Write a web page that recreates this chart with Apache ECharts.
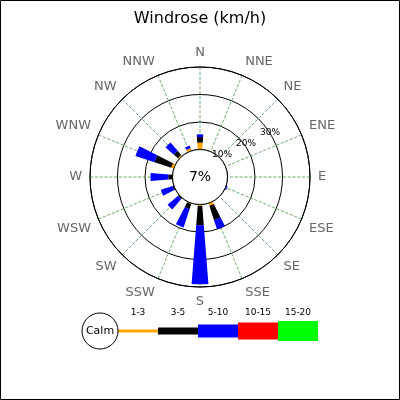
<!DOCTYPE html><html><head><meta charset="utf-8"><script src="https://cdn.jsdelivr.net/npm/echarts@6/dist/echarts.min.js"></script></head><body style="margin:0"><div id="c" style="width:400px;height:400px"></div><script>
var directions=['N','NNE','NE','ENE','E','ESE','SE','SSE','S','SSW','SW','WSW','W','WNW','NW','NNW'];
var s1_3 =[2.5,0,0,0,0,0,0,1,0.5,0.3,0,0,0,1,0.5,1];
var s3_5 =[2,0,0,0,0,0.3,0,5.5,7,2,0.5,0.5,1.5,6.4,2,0];
var s5_10=[1,0,0,0,0,0.3,0,3.5,21.5,7,5,4.5,6.5,7.3,4,1];
var s10_15=[0,0,0,0,0,0,0,0,0,0,0,0,0,0,0,0];
var s15_20=[0,0,0,0,0,0,0,0,0,0,0,0,0,0,0,0];
var calm=7;
var ringLabels=['10%','20%','30%'];
var legendNames=['1-3','3-5','5-10','10-15','15-20'];
var colors=['orange','black','blue','red','#00ff00'];
var F='DejaVu Sans';
var ch=echarts.init(document.getElementById('c'));
var series=[s1_3,s3_5,s5_10,s10_15,s15_20].map(function(d,i){return{type:'bar',coordinateSystem:'polar',stack:'w',data:d,barWidth:'40%',itemStyle:{color:colors[i]},name:legendNames[i]};});
series.push({type:'pie',center:[200,177],radius:[0,27.5],silent:true,z:10,data:[{value:1,name:calm+'%'}],itemStyle:{color:'#fff',borderColor:'#000',borderWidth:1},label:{position:'center',formatter:'{b}',fontSize:14,color:'#000',fontFamily:F},labelLine:{show:false}});
var g=[{type:'rect',shape:{x:0.5,y:0.5,width:399,height:399},style:{fill:'none',stroke:'#000'}},
{type:'circle',shape:{cx:100,cy:331,r:18},style:{fill:'#fff',stroke:'#000'},z:10},
{type:'text',x:100,y:331,style:{text:'Calm',fontSize:11,fontFamily:F,fill:'#000',align:'center',verticalAlign:'middle'},z:11}];
var hs=[3,7,13,17,20];
legendNames.forEach(function(n,i){var x=118+40*i;g.push({type:'rect',shape:{x:x,y:331-hs[i]/2,width:40,height:hs[i]},style:{fill:colors[i]}});g.push({type:'text',x:x+20,y:313,style:{text:n,fontSize:9,fontFamily:F,fill:'#000',align:'center',verticalAlign:'middle'}});});
var lp=[[222,155],[246,144],[270,133]];
ringLabels.forEach(function(t,i){g.push({type:'text',x:lp[i][0],y:lp[i][1],style:{text:t,fontSize:9,fontFamily:F,fill:'#000',align:'center',verticalAlign:'middle'},z:12});});
ch.setOption({animation:false,
title:{text:'Windrose (km/h)',left:'center',top:6,textStyle:{fontSize:16,fontWeight:'normal',color:'#000',fontFamily:F}},
polar:{center:[200,177],radius:110},
angleAxis:{type:'category',data:directions,startAngle:101.25,clockwise:true,boundaryGap:true,
 axisLine:{lineStyle:{color:'#000',width:1}},
 axisTick:{show:true,alignWithLabel:true,inside:true,length:110,lineStyle:{color:'#4a9a4a',type:'dashed',width:0.8}},
 axisLabel:{color:'#666',fontSize:13,fontFamily:F,margin:8,interval:0},splitLine:{show:false}},
radiusAxis:{min:-10,max:30,interval:10,axisLine:{show:false},axisTick:{show:false},axisLabel:{show:false},splitLine:{show:true,lineStyle:{color:'#000',width:1}}},
series:series,graphic:g});
</script></body></html>
